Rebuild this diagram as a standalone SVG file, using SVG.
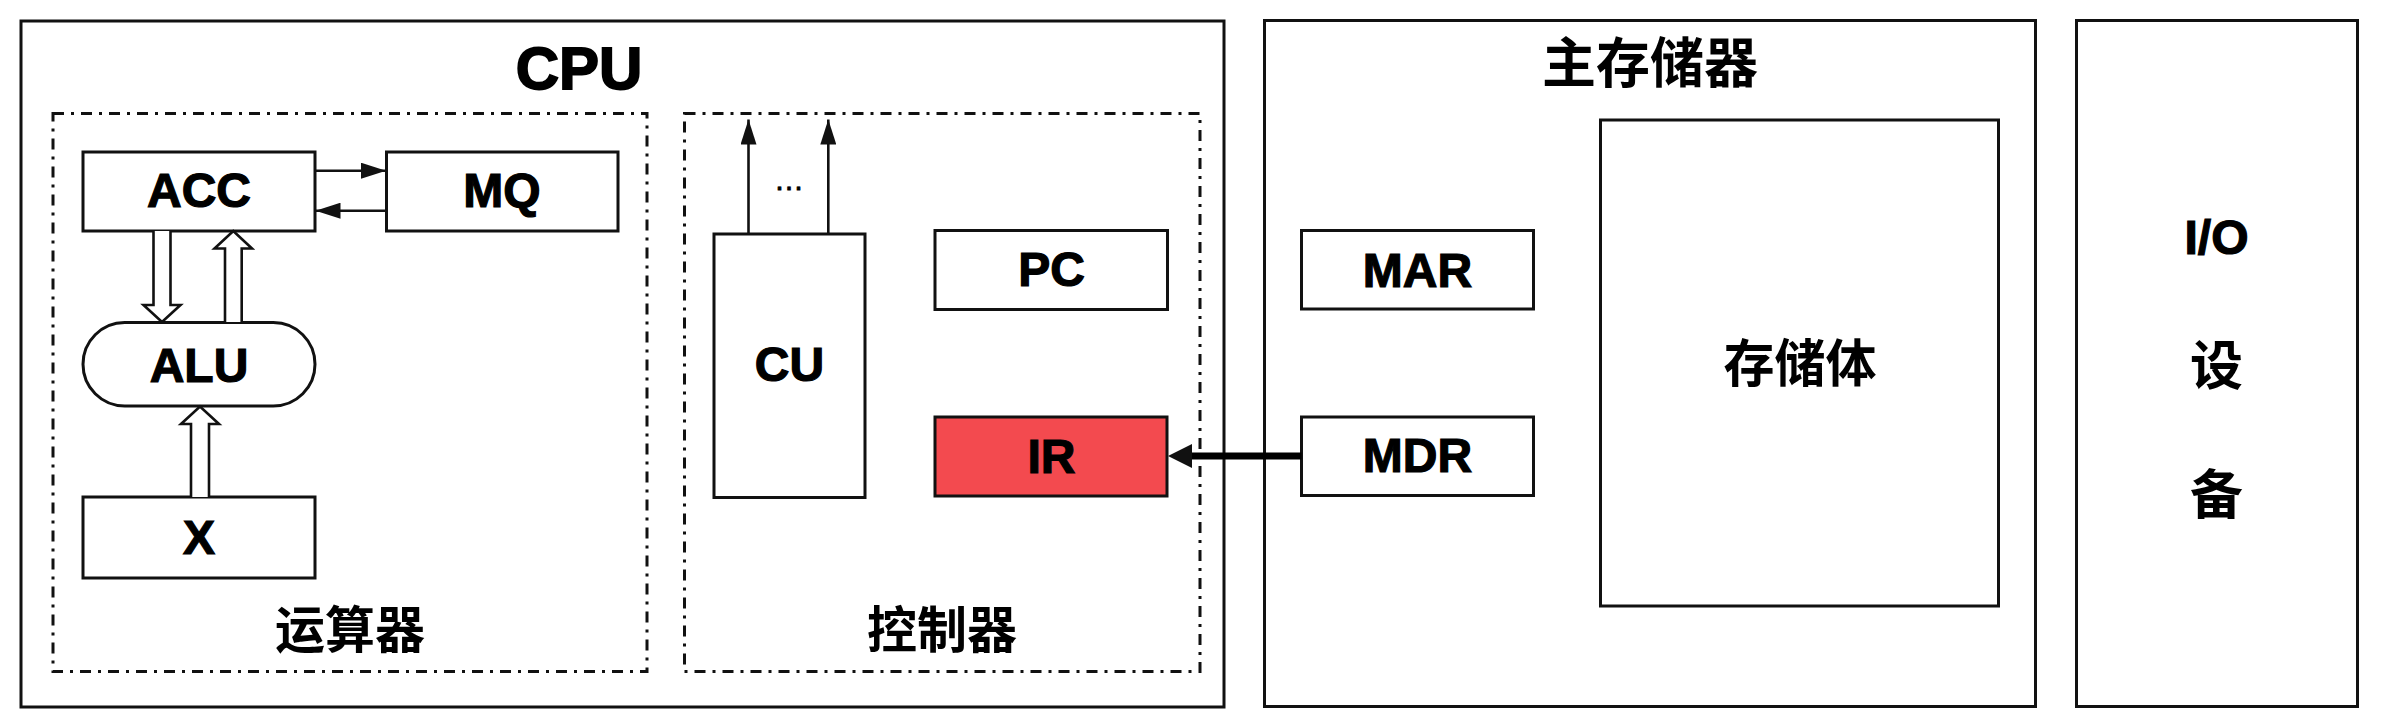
<svg xmlns="http://www.w3.org/2000/svg" width="2388" height="722" viewBox="0 0 2388 722">
<defs>
<style>
.box{fill:#fff;stroke:#111;stroke-width:3}
.dd{fill:none;stroke:#111;stroke-width:3;stroke-dasharray:11 7 3 7}
.lbl{font-family:"Liberation Sans",Arial,sans-serif;font-weight:bold;font-size:48px;fill:#000;stroke:#000;stroke-width:1.2;text-anchor:middle}
.cjk{font-family:"Noto Sans CJK SC","Noto Sans",sans-serif;font-weight:bold;fill:#000;text-anchor:middle}
.ln{fill:none;stroke:#111;stroke-width:2.6}
.hollow{fill:#fff;stroke:#111;stroke-width:2.6;stroke-linejoin:miter}
.head{fill:#111;stroke:none}
</style>
<marker id="ah" markerUnits="userSpaceOnUse" markerWidth="26" markerHeight="16" refX="25" refY="8" orient="auto">
<path d="M0,0 L25,8 L0,16 z" fill="#111"/>
</marker>
</defs>
<rect width="2388" height="722" fill="#fff"/>

<g id="cpu">
<rect class="box" x="21" y="21" width="1203" height="686"/>
<text class="lbl" x="579" y="89" style="font-size:60px;stroke-width:1.8">CPU</text>
</g>

<g id="alu-unit">
<rect class="dd" x="53" y="113.5" width="594" height="558"/>
<text class="cjk" x="350" y="648" style="font-size:50px">运算器</text>
</g>

<g id="ctrl-unit">
<rect class="dd" x="684.5" y="113.5" width="515.5" height="558"/>
<text class="cjk" x="942" y="648" style="font-size:50px">控制器</text>
</g>

<g id="acc">
<rect class="box" x="83" y="152" width="232" height="79"/>
<text class="lbl" x="199" y="207">ACC</text>
</g>
<g id="mq">
<rect class="box" x="386.5" y="152" width="231.5" height="79"/>
<text class="lbl" x="502" y="207">MQ</text>
</g>
<g id="alu">
<rect class="box" x="83" y="322.5" width="232" height="83.5" rx="41.7" ry="41.7"/>
<text class="lbl" x="199" y="381.5">ALU</text>
</g>
<g id="x">
<rect class="box" x="83" y="497" width="232" height="81"/>
<text class="lbl" x="199" y="554">X</text>
</g>

<g id="cu">
<rect class="box" x="714" y="234" width="151" height="263.5"/>
<text class="lbl" x="789.5" y="381">CU</text>
</g>
<g id="pc">
<rect class="box" x="935" y="230.5" width="232.5" height="79"/>
<text class="lbl" x="1051.5" y="286">PC</text>
</g>
<g id="ir">
<rect class="box" x="935" y="417" width="232" height="79" style="fill:#F34A4F"/>
<text class="lbl" x="1051.5" y="472.5">IR</text>
</g>

<g id="memory">
<rect class="box" x="1264.5" y="20.5" width="771" height="686"/>
<text class="cjk" x="1650" y="82.5" style="font-size:54px">主存储器</text>
</g>
<g id="storage">
<rect class="box" x="1600.5" y="120" width="398" height="486"/>
<text class="cjk" x="1800" y="382" style="font-size:51px">存储体</text>
</g>
<g id="mar">
<rect class="box" x="1301.5" y="230.5" width="232" height="78.5"/>
<text class="lbl" x="1417.5" y="286.5">MAR</text>
</g>
<g id="mdr">
<rect class="box" x="1301.5" y="417" width="232" height="78.5"/>
<text class="lbl" x="1417.5" y="472">MDR</text>
</g>

<g id="io">
<rect class="box" x="2076.5" y="20.5" width="281" height="686"/>
<text class="lbl" x="2216.5" y="254">I/O</text>
<text class="cjk" x="2216.5" y="385" style="font-size:53px">设</text>
<text class="cjk" x="2216.5" y="514" style="font-size:53px">备</text>
</g>

<g id="connectors">
<line class="ln" x1="315" y1="170.7" x2="386" y2="170.7" marker-end="url(#ah)"/>
<line class="ln" x1="386.5" y1="210.7" x2="315.5" y2="210.7" marker-end="url(#ah)"/>
<path class="hollow" d="M153.5,231 L153.5,305 L143.5,305 L162,322 L180.5,305 L170.5,305 L170.5,231"/>
<path class="hollow" d="M225,322 L225,248.5 L214.5,248.5 L233.3,231 L252,248.5 L241.7,248.5 L241.7,322"/>
<path class="hollow" d="M191,497 L191,424 L181,424 L200,406.5 L219,424 L209,424 L209,497"/>
<line class="ln" x1="748.5" y1="234" x2="748.5" y2="119.5" marker-end="url(#ah)"/>
<line class="ln" x1="828.3" y1="234" x2="828.3" y2="119.5" marker-end="url(#ah)"/>
<text x="789" y="190" style="font-family:'Liberation Sans',Arial,sans-serif;font-size:30px;fill:#000;stroke:#000;stroke-width:0.8;text-anchor:middle">…</text>
<line x1="1301.5" y1="456" x2="1188" y2="456" stroke="#000" stroke-width="7"/>
<polygon class="head" points="1168,456 1192,444 1192,468"/>
</g>
</svg>
